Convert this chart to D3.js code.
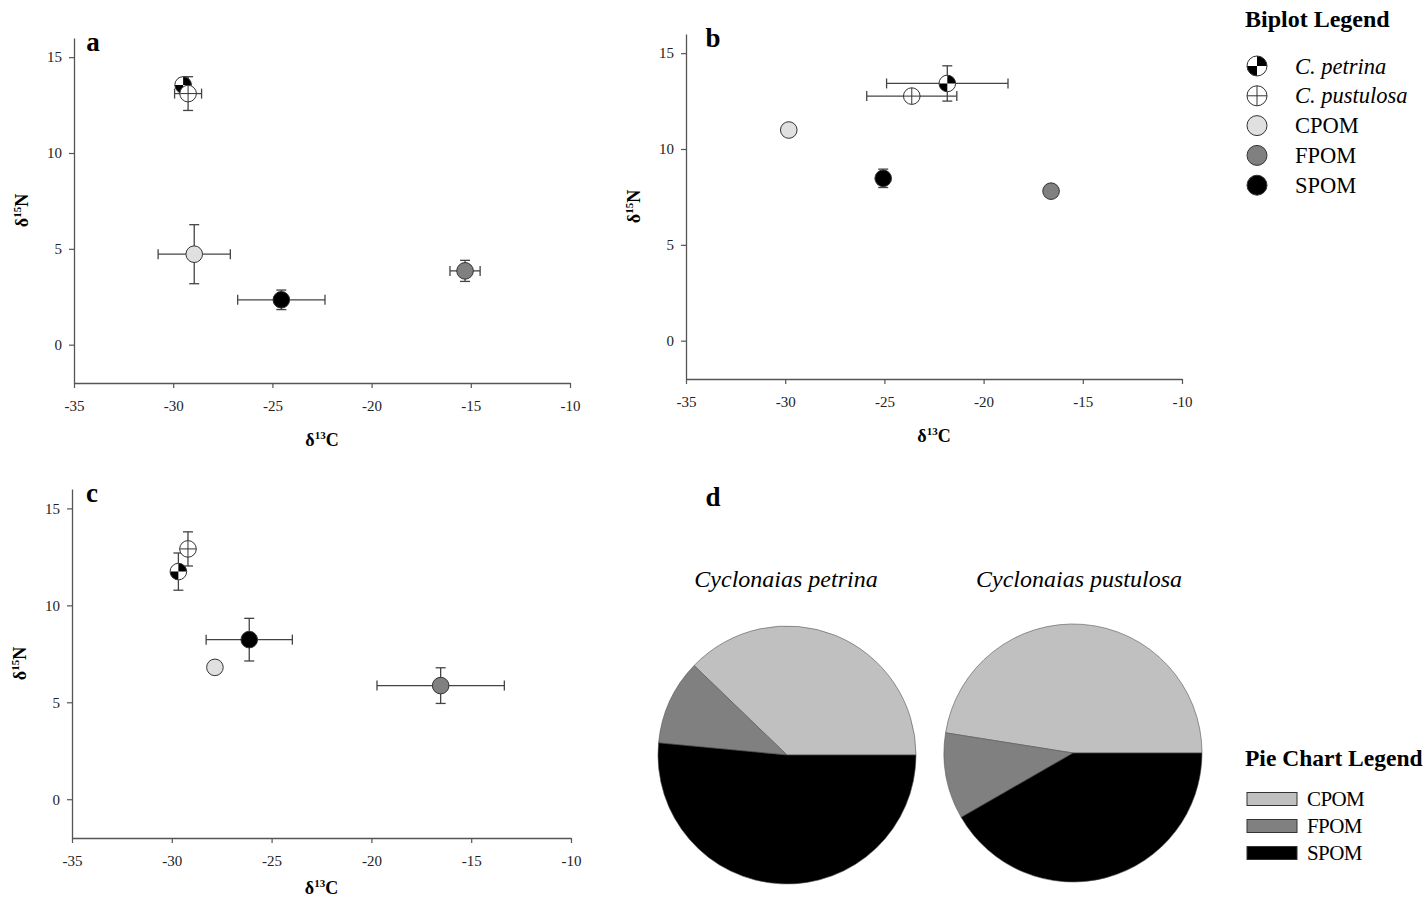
<!DOCTYPE html>
<html>
<head>
<meta charset="utf-8">
<script src="https://cdn.jsdelivr.net/npm/d3@7"></script>
<style>
  body { margin: 0; background: #fff; }
  svg { font-family: "Liberation Serif", "Times New Roman", serif; }
</style>
</head>
<body>
<svg id="fig" width="1427" height="903"></svg>
<script>
// source order used by every panel
var sources = ["C. petrina", "C. pustulosa", "CPOM", "FPOM", "SPOM"];

// panel a
var aC   = [-29.5, -29.25, -28.94, -15.29, -24.55];
var aN   = [13.55, 13.1, 4.72, 3.85, 2.34];
var aCse = [0.2, 0.68, 1.82, 0.76, 2.2];
var aNse = [0.35, 0.88, 1.54, 0.55, 0.51];

// panel b
var bC   = [-21.83, -23.62, -29.82, -16.6, -25.06];
var bN   = [13.42, 12.76, 10.99, 7.8, 8.47];
var bCse = [3.06, 2.27, 0, 0, 0];
var bNse = [0.92, 0, 0, 0, 0.48];

// panel c
var cC   = [-29.67, -29.19, -27.84, -16.53, -26.12];
var cN   = [11.74, 12.91, 6.8, 5.86, 8.23];
var cCse = [0.3, 0.3, 0, 3.19, 2.16];
var cNse = [0.96, 0.88, 0, 0.92, 1.1];

// panel d: proportions (%)
var pieSources = ["CPOM", "FPOM", "SPOM"];
var petrinaPie = [37.8, 10.7, 51.5];
var pustulosaPie = [47.5, 10.8, 41.7];

var xTicks = [-35, -30, -25, -20, -15, -10];
var yTicks = [0, 5, 10, 15];

var fills = {"CPOM": "#e0e0e0", "FPOM": "#808080", "SPOM": "#000"};
var pieFills = {"CPOM": "#c0c0c0", "FPOM": "#808080", "SPOM": "#000"};

var svg = d3.select("#fig");
var fmt = function(v) { return String(v); }; // plain hyphen minus like the original

function drawMarker(g, type, r) {
    if (type === "C. petrina") {
        g.append("circle").attr("r", r).attr("fill", "#fff");
        var q = d3.arc().innerRadius(0).outerRadius(r);
        g.append("path").attr("d", q({startAngle: 0, endAngle: Math.PI / 2})).attr("fill", "#000");
        g.append("path").attr("d", q({startAngle: Math.PI, endAngle: Math.PI * 1.5})).attr("fill", "#000");
        g.append("circle").attr("r", r).attr("fill", "none").attr("stroke", "#333").attr("stroke-width", 1);
    } else if (type === "C. pustulosa") {
        g.append("circle").attr("r", r).attr("fill", "#fff").attr("stroke", "#333").attr("stroke-width", 1);
        g.append("line").attr("x1", -r).attr("x2", r).attr("stroke", "#333");
        g.append("line").attr("y1", -r).attr("y2", r).attr("stroke", "#333");
    } else {
        g.append("circle").attr("r", r).attr("fill", fills[type])
            .attr("stroke", "#333").attr("stroke-width", 1);
    }
}

function biplot(box, label, labelX, titleOff, cx, ny, cse, nse) {
    var x = d3.scaleLinear().domain([-35, -10]).range([box.left, box.right]);
    var y = d3.scaleLinear().domain([-2, 16]).range([box.bottom, box.top]);
    var g = svg.append("g");

    var xa = g.append("g")
        .attr("transform", "translate(0," + box.bottom + ")")
        .call(d3.axisBottom(x).tickValues(xTicks).tickFormat(fmt)
            .tickSize(5).tickSizeOuter(0).tickPadding(12));
    var ya = g.append("g")
        .attr("transform", "translate(" + box.left + ",0)")
        .call(d3.axisLeft(y).tickValues(yTicks).tickFormat(fmt)
            .tickSize(5).tickSizeOuter(0).tickPadding(7));
    [xa, ya].forEach(function(a) {
        a.select(".domain").attr("stroke", "#555").attr("stroke-width", 1.3);
        a.selectAll(".tick line").attr("stroke", "#555").attr("stroke-width", 1.2);
        a.selectAll(".tick text").attr("font-size", 15).attr("fill", "#222")
            .attr("font-family", "Liberation Serif");
    });

    // axis titles
    var xt = g.append("text")
        .attr("x", (box.left + box.right) / 2)
        .attr("y", box.bottom + titleOff)
        .attr("text-anchor", "middle").attr("font-weight", "bold").attr("font-size", 18);
    xt.append("tspan").text("δ");
    xt.append("tspan").attr("font-size", 11).attr("dy", -7).text("13");
    xt.append("tspan").attr("dy", 7).text("C");

    var yt = g.append("text")
        .attr("transform", "translate(" + (box.left - 46) + "," + (box.top + box.bottom) / 2 + ") rotate(-90)")
        .attr("text-anchor", "middle").attr("font-weight", "bold").attr("font-size", 18);
    yt.append("tspan").text("δ");
    yt.append("tspan").attr("font-size", 11).attr("dy", -7).text("15");
    yt.append("tspan").attr("dy", 7).text("N");

    g.append("text").attr("x", labelX).attr("y", box.top + 13)
        .attr("text-anchor", "middle").attr("font-weight", "bold").attr("font-size", 27)
        .text(label);

    var pts = sources.map(function(s, i) {
        return {src: s, c: cx[i], n: ny[i], cse: cse[i], nse: nse[i]};
    });

    // error bars first, markers on top
    var cap = 5;
    var eb = g.append("g").attr("stroke", "#444").attr("stroke-width", 1.3);
    pts.forEach(function(d) {
        if (d.cse > 0) {
            eb.append("line").attr("x1", x(d.c - d.cse)).attr("x2", x(d.c + d.cse))
                .attr("y1", y(d.n)).attr("y2", y(d.n));
            [d.c - d.cse, d.c + d.cse].forEach(function(v) {
                eb.append("line").attr("x1", x(v)).attr("x2", x(v))
                    .attr("y1", y(d.n) - cap).attr("y2", y(d.n) + cap);
            });
        }
        if (d.nse > 0) {
            eb.append("line").attr("x1", x(d.c)).attr("x2", x(d.c))
                .attr("y1", y(d.n - d.nse)).attr("y2", y(d.n + d.nse));
            [d.n - d.nse, d.n + d.nse].forEach(function(v) {
                eb.append("line").attr("x1", x(d.c) - cap).attr("x2", x(d.c) + cap)
                    .attr("y1", y(v)).attr("y2", y(v));
            });
        }
    });

    var order = [2, 3, 4, 0, 1];
    order.forEach(function(i) {
        var d = pts[i];
        var m = g.append("g").attr("transform", "translate(" + x(d.c) + "," + y(d.n) + ")");
        drawMarker(m, d.src, 8.3);
    });
}

biplot({left: 74, right: 570, top: 38, bottom: 383}, "a", 93, 63, aC, aN, aCse, aNse);
biplot({left: 686, right: 1182, top: 34, bottom: 379}, "b", 713, 63, bC, bN, bCse, bNse);
biplot({left: 72, right: 571, top: 489, bottom: 838}, "c", 92, 56, cC, cN, cCse, cNse);

// panel d
svg.append("text").attr("x", 713).attr("y", 506)
    .attr("text-anchor", "middle").attr("font-weight", "bold").attr("font-size", 27).text("d");

var pie = d3.pie().sort(null)
    .startAngle(Math.PI / 2).endAngle(Math.PI / 2 - 2 * Math.PI);
var arc = d3.arc().innerRadius(0).outerRadius(129);

function drawPie(cx, cy, tx, title, values) {
    svg.append("text").attr("x", tx).attr("y", 587)
        .attr("text-anchor", "middle").attr("font-style", "italic").attr("font-size", 24)
        .text(title);
    var g = svg.append("g").attr("transform", "translate(" + cx + "," + cy + ")");
    g.selectAll("path")
        .data(pie(values))
        .enter().append("path")
        .attr("d", arc)
        .attr("fill", function(d, i) { return pieFills[pieSources[i]]; })
        .attr("stroke", "#555").attr("stroke-width", 0.6);
}
drawPie(787, 755, 786, "Cyclonaias petrina", petrinaPie);
drawPie(1073, 753, 1079, "Cyclonaias pustulosa", pustulosaPie);

// biplot legend
var leg = svg.append("g").classed("legend", true);
leg.append("text").attr("x", 1245).attr("y", 27)
    .attr("font-weight", "bold").attr("font-size", 24).text("Biplot Legend");
sources.forEach(function(s, i) {
    var cy = 66 + i * 29.8;
    var m = leg.append("g").attr("transform", "translate(1257," + cy + ")");
    drawMarker(m, s, 10);
    leg.append("text").attr("x", 1295).attr("y", cy + 7.5)
        .attr("font-size", 22.5)
        .attr("font-style", i < 2 ? "italic" : "normal")
        .text(s);
});

// pie legend
var pleg = svg.append("g").classed("legend", true);
pleg.append("text").attr("x", 1245).attr("y", 766)
    .attr("font-weight", "bold").attr("font-size", 23.5).text("Pie Chart Legend");
pieSources.forEach(function(s, i) {
    var cy = 799 + i * 27;
    pleg.append("rect").attr("x", 1247).attr("y", cy - 6.5)
        .attr("width", 50).attr("height", 13)
        .attr("fill", pieFills[s]).attr("stroke", "#333").attr("stroke-width", 1);
    pleg.append("text").attr("x", 1307).attr("y", cy + 7)
        .attr("font-size", 21).attr("letter-spacing", -0.6).text(s);
});
</script>
</body>
</html>
